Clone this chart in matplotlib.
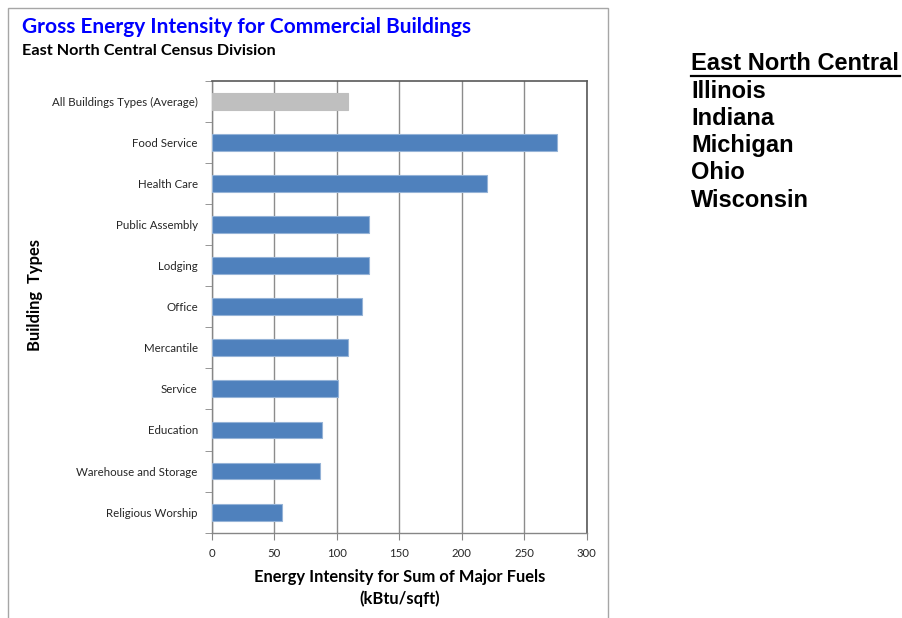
import matplotlib
matplotlib.use("Agg")
import matplotlib.pyplot as plt
from matplotlib.patches import Rectangle
import numpy as np

# values (kBtu/sqft)
building_types = ["All Buildings Types (Average)", "Food Service", "Health Care",
                  "Public Assembly", "Lodging", "Office", "Mercantile", "Service",
                  "Education", "Warehouse and Storage", "Religious Worship"]
intensity = [109, 276, 220, 126, 126, 120, 109, 101, 88, 87, 56]
states = ["Illinois", "Indiana", "Michigan", "Ohio", "Wisconsin"]
x_ticks = [0, 50, 100, 150, 200, 250, 300]

plt.rcParams['font.family'] = ['Lato', 'DejaVu Sans']

fig = plt.figure(figsize=(9.03, 6.18), dpi=100)
W, H = 903, 618

# chart frame
fig.patches.append(Rectangle((8 / W, -0.05), 600 / W, 1.05 - 8 / H,
                             transform=fig.transFigure, fill=False,
                             edgecolor="#A6A6A6", linewidth=1.0))

ax = fig.add_axes([211.7 / W, 1 - 532.7 / H, 375 / W, 452 / H])
pos = np.arange(len(building_types))
colors = ["#BFBFBF"] + ["#4F81BD"] * (len(building_types) - 1)
edges = ["#BFBFBF"] + ["#95B3D7"] * (len(building_types) - 1)
ax.barh(pos, intensity, height=0.41, color=colors, edgecolor=edges, linewidth=0.8, zorder=3)

ax.set_xlim(0, 300)
ax.set_ylim(len(building_types) - 0.5, -0.5)
ax.set_xticks(x_ticks)
ax.set_xticklabels([str(t) for t in x_ticks], fontsize=8.2, color="#262626")
ax.set_yticks(pos)
ax.set_yticklabels(building_types, fontsize=8.3, color="#262626")
ax.set_yticks(np.arange(-0.5, len(building_types), 1), minor=True)
ax.tick_params(axis="y", which="major", length=0, pad=10)
ax.tick_params(axis="y", which="minor", length=5, color="#868686")
ax.tick_params(axis="x", length=5, color="#868686", pad=6)
ax.grid(axis="x", color="#8C8C8C", linewidth=1.0, zorder=0)
for s in ["top", "right"]:
    ax.spines[s].set_color("#595959")
    ax.spines[s].set_linewidth(1.2)
for s in ["left", "bottom"]:
    ax.spines[s].set_color("#868686")
    ax.spines[s].set_linewidth(1.0)

ax.set_xlabel("Energy Intensity for Sum of Major Fuels\n(kBtu/sqft)", fontsize=11.9,
              fontweight="bold", linespacing=1.45, labelpad=7)
fig.text(35 / W, 1 - 295 / H, "Building  Types", rotation=90, fontsize=11.9,
         fontweight="bold", ha="center", va="center")

fig.text(22 / W, 1 - 27 / H, "Gross Energy Intensity for Commercial Buildings",
         fontsize=15, fontweight="bold", color="#0000FF", va="center")
fig.text(22 / W, 1 - 51 / H, "East North Central Census Division",
         fontsize=11.7, fontweight="bold", color="#000000", va="center")

# state list on the right
side = ["Liberation Sans", "DejaVu Sans"]
fig.text(691 / W, 1 - 63 / H, "East North Central", fontsize=17, fontweight="bold",
         family=side, va="center")
fig.add_artist(plt.Line2D([691 / W, 900 / W], [1 - 75.5 / H, 1 - 75.5 / H],
                          color="black", linewidth=1.6, transform=fig.transFigure))
for i, st in enumerate(states):
    fig.text(691 / W, 1 - (91 + 27.3 * i) / H, st, fontsize=17, fontweight="bold",
             family=side, va="center")

fig.savefig("out.png", dpi=100)
